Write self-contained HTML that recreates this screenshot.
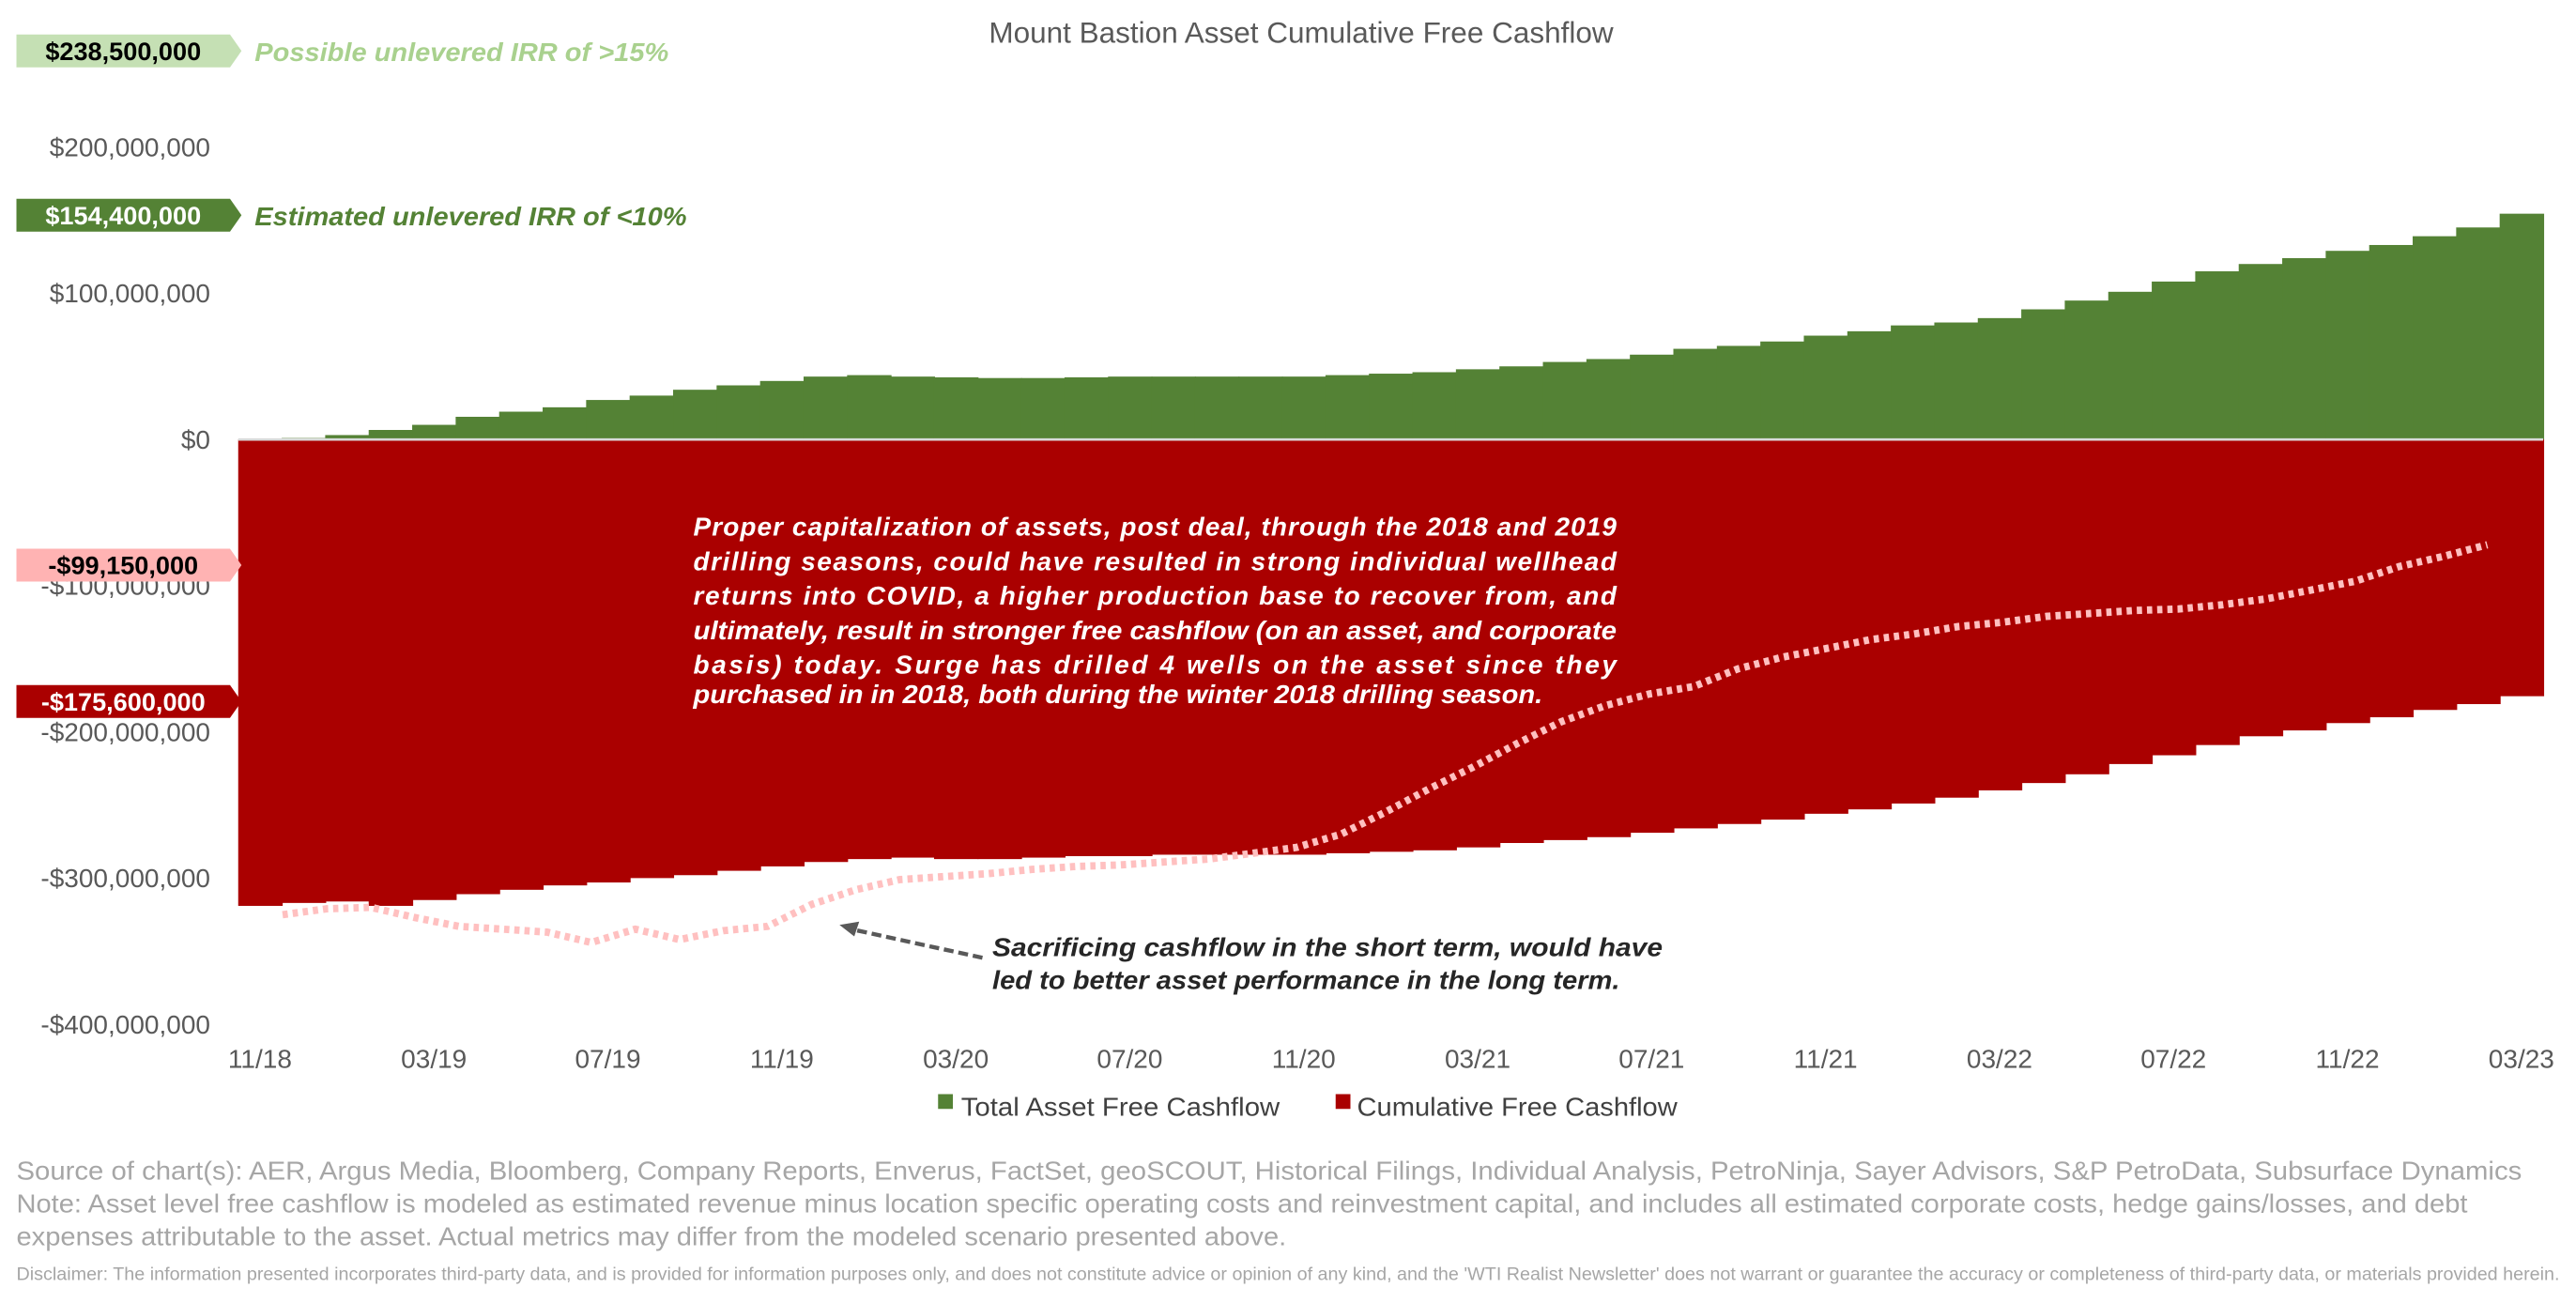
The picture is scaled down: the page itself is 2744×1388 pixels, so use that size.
<!DOCTYPE html>
<html><head><meta charset="utf-8">
<style>
html,body{margin:0;padding:0;background:#fff;}
#outer{width:2744px;height:1388px;overflow:hidden;position:relative;}
#inner{width:1568px;height:793px;transform:scale(1.75);transform-origin:0 0;position:absolute;left:0;top:0;}
svg text{font-family:"Liberation Sans",Arial,sans-serif;}
</style></head>
<body>
<div id="outer">
<div id="inner">
<svg id="chart" width="1568" height="793" viewBox="0 0 1568 793">
  <text x="792" y="26" text-anchor="middle" font-size="18" fill="#595959">Mount Bastion Asset Cumulative Free Cashflow</text>
  <g id="yaxis"></g>
  <g id="bars"></g>
  <line x1="145" x2="1548" y1="267.5" y2="267.5" stroke="#d9d9d9" stroke-width="1.5"/>
  <path id="dotline" fill="none" stroke="#ffc0c0" stroke-width="4.5" stroke-dasharray="3.2,3"/>
  <g id="xaxis"></g>
  <g id="tags"></g>

  <text x="155" y="37" font-size="16" font-weight="bold" font-style="italic" fill="#a9d18e" textLength="252" lengthAdjust="spacingAndGlyphs">Possible unlevered IRR of &gt;15%</text>
  <text x="155" y="137" font-size="16" font-weight="bold" font-style="italic" fill="#548235" textLength="263" lengthAdjust="spacingAndGlyphs">Estimated unlevered IRR of &lt;10%</text>

  <g font-size="16" font-weight="bold" font-style="italic" fill="#fff">
    <text x="422" y="326" textLength="562" lengthAdjust="spacing">Proper capitalization of assets, post deal, through the 2018 and 2019</text>
    <text x="422" y="347" textLength="562" lengthAdjust="spacing">drilling seasons, could have resulted in strong individual wellhead</text>
    <text x="422" y="368" textLength="562" lengthAdjust="spacing">returns into COVID, a higher production base to recover from, and</text>
    <text x="422" y="389" textLength="562" lengthAdjust="spacingAndGlyphs">ultimately, result in stronger free cashflow (on an asset, and corporate</text>
    <text x="422" y="410" textLength="562" lengthAdjust="spacing">basis) today. Surge has drilled 4 wells on the asset since they</text>
    <text x="422" y="428" textLength="517" lengthAdjust="spacingAndGlyphs">purchased in in 2018, both during the winter 2018 drilling season.</text>
  </g>

  <g font-size="16" font-weight="bold" font-style="italic" fill="#262626">
    <text x="604" y="582" textLength="408" lengthAdjust="spacingAndGlyphs">Sacrificing cashflow in the short term, would have</text>
    <text x="604" y="602" textLength="382" lengthAdjust="spacingAndGlyphs">led to better asset performance in the long term.</text>
  </g>
  <g>
    <line x1="598" y1="583" x2="520" y2="566" stroke="#595959" stroke-width="2.5" stroke-dasharray="6,3"/>
    <polygon points="511,563 523,561 520,570" fill="#595959"/>
  </g>

  <g>
    <rect x="571" y="666" width="9" height="9" fill="#548235"/>
    <text x="585" y="679" font-size="16" fill="#404040" textLength="194" lengthAdjust="spacingAndGlyphs">Total Asset Free Cashflow</text>
    <rect x="813" y="666" width="9" height="9" fill="#aa0000"/>
    <text x="826" y="679" font-size="16" fill="#404040" textLength="195" lengthAdjust="spacingAndGlyphs">Cumulative Free Cashflow</text>
  </g>

  <g fill="#a6a6a6" font-size="16">
    <text x="10" y="718" textLength="1525" lengthAdjust="spacingAndGlyphs">Source of chart(s): AER, Argus Media,  Bloomberg, Company Reports, Enverus, FactSet, geoSCOUT, Historical Filings, Individual Analysis, PetroNinja, Sayer Advisors, S&amp;P PetroData, Subsurface Dynamics</text>
    <text x="10" y="738" textLength="1492" lengthAdjust="spacingAndGlyphs">Note: Asset level free cashflow is modeled as estimated revenue minus location specific operating costs and reinvestment capital, and includes all estimated corporate costs, hedge gains/losses, and debt</text>
    <text x="10" y="758" textLength="773" lengthAdjust="spacingAndGlyphs">expenses attributable to the asset. Actual metrics may differ from the modeled scenario presented above.</text>
    <text x="10" y="779" font-size="11" textLength="1548" lengthAdjust="spacingAndGlyphs">Disclaimer: The information presented incorporates third-party data, and is provided for information purposes only, and does not constitute advice or opinion of any kind, and the 'WTI Realist Newsletter' does not warrant or guarantee the accuracy or completeness of third-party data, or materials provided herein.</text>
  </g>
</svg>
</div>
</div>
<script>
const months = ["11/18","12/18","01/19","02/19","03/19","04/19","05/19","06/19","07/19","08/19","09/19","10/19","11/19","12/19","01/20","02/20","03/20","04/20","05/20","06/20","07/20","08/20","09/20","10/20","11/20","12/20","01/21","02/21","03/21","04/21","05/21","06/21","07/21","08/21","09/21","10/21","11/21","12/21","01/22","02/22","03/22","04/22","05/22","06/22","07/22","08/22","09/22","10/22","11/22","12/22","01/23","02/23","03/23"];
// $ millions
const totalAssetFCF = [0,1,3,6.5,10,15.5,19,22,27,30,34,37,40,43,44,43,42.5,42,42,42.5,43,43,43,43,43,44,45,46,48,50,53,55,58,62,64,67,71,74,78,80,83,89,95,101,108,115,120,124,129,133,139,145,154.4];
const cumulativeFCF = [-319,-317,-316,-319,-315,-311,-308,-305,-303,-300,-298,-295,-292,-289,-287,-286,-287,-287,-286,-285,-285,-284,-284,-284,-284,-283,-282,-281,-279,-276,-274,-272,-269,-266,-263,-260,-256,-253,-249,-245,-240,-235,-229,-222,-216,-209,-203,-199,-194,-190,-185,-181,-175.6];
const altCumulative = [-325,-321,-320,-327,-333,-335,-337,-344,-335,-342,-336,-333,-318,-308,-301,-299,-297,-294,-292,-291,-289,-287,-283,-279,-270,-255,-239,-224,-208,-193,-182,-174,-169,-157,-149,-143,-137,-133,-128,-125,-121,-119,-117,-116,-113,-109,-103,-97,-87,-80,-72];
const yTicks = [200,100,0,-100,-200,-300,-400];
const yTickLabels = ["$200,000,000","$100,000,000","$0","-$100,000,000","-$200,000,000","-$300,000,000","-$400,000,000"];
const xTickLabels = ["11/18","03/19","07/19","11/19","03/20","07/20","11/20","03/21","07/21","11/21","03/22","07/22","11/22","03/23"];
const tagValues = [238.5,154.4,-99.15,-175.6];
const tagLabels = ["$238,500,000","$154,400,000","-$99,150,000","-$175,600,000"];

const NS="http://www.w3.org/2000/svg";
const X0=145, X1=1548;
const bw=(X1-X0)/months.length;
function y(v){return 267.5 - v*0.89;}
function xBand(i){return X0 + i*bw;}
function xLine(i){return 172 + i*(1514-172)/(altCumulative.length-1);}
function mk(tag,attrs,parent){const e=document.createElementNS(NS,tag);for(const k in attrs)e.setAttribute(k,attrs[k]);parent.appendChild(e);return e;}

const yg=document.getElementById('yaxis');
yTicks.forEach((v,i)=>{
  const t=mk('text',{x:128,y:y(v)+5.5,'text-anchor':'end','font-size':'16',fill:'#595959'},yg);
  t.textContent=yTickLabels[i];
  
  
});
const bg=document.getElementById('bars');
months.forEach((m,i)=>{
  if(totalAssetFCF[i]>0){
    const r=mk('rect',{x:xBand(i),y:y(totalAssetFCF[i]),width:bw+0.6,height:y(0)-y(totalAssetFCF[i]),fill:'#548235'},bg);
    
    
  }
  const r2=mk('rect',{x:xBand(i),y:y(0),width:bw+0.6,height:y(cumulativeFCF[i])-y(0),fill:'#aa0000'},bg);
  
  
});
let d='';
altCumulative.forEach((v,i)=>{d+=(i?'L':'M')+xLine(i).toFixed(1)+','+y(v).toFixed(1)+' ';});
document.getElementById('dotline').setAttribute('d',d);
const xg=document.getElementById('xaxis');
xTickLabels.forEach(lbl=>{
  const i=months.indexOf(lbl);
  const t=mk('text',{x:xBand(i)+bw/2,y:650,'text-anchor':'middle','font-size':'16',fill:'#595959'},xg);
  t.textContent=lbl;
  
  
});
const tg=document.getElementById('tags');
const tagFill=['#c5e0b4','#548235','#ffb3b3','#aa0000'];
const tagText=['#000','#fff','#000','#fff'];
const tagY=[31,131,344,427];
tagValues.forEach((v,i)=>{
  const cy=tagY[i];
  const p=mk('polygon',{points:`10,${cy-10} 140,${cy-10} 147,${cy} 140,${cy+10} 10,${cy+10}`,fill:tagFill[i]},tg);
  
  
  const t=mk('text',{x:75,y:cy+5.5,'text-anchor':'middle','font-size':'15.5','font-weight':'bold',fill:tagText[i]},tg);
  t.textContent=tagLabels[i];
  
  
});
</script>
</body></html>
